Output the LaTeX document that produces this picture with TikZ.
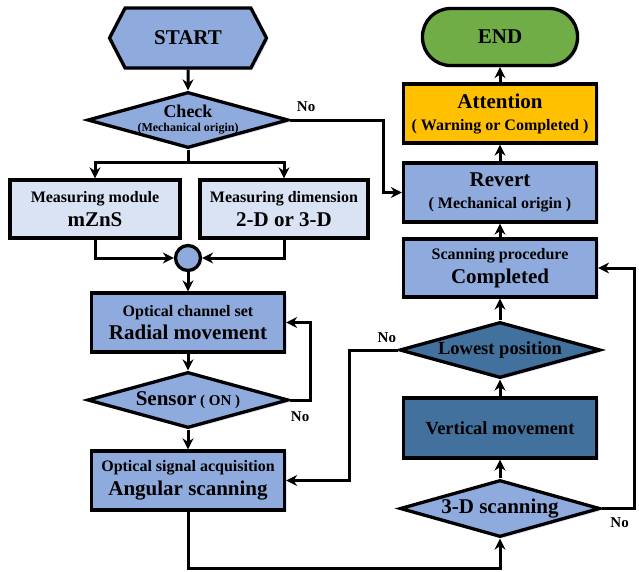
\documentclass[tikz,border=0pt]{standalone}
\usepackage{fontspec}
\setmainfont{Liberation Serif}
\usetikzlibrary{arrows.meta,shapes.geometric,shapes.symbols,shadows}
\definecolor{boxblue}{HTML}{8FAADC}
\definecolor{deepblue}{HTML}{41719C}
\definecolor{paleblue}{HTML}{DAE3F3}
\definecolor{attnorange}{HTML}{FFC000}
\definecolor{endgreen}{HTML}{70AD47}
\newcommand{\smalltxt}{\fontsize{16}{19}\selectfont}
\newcommand{\bigtxt}{\fontsize{21}{25}\selectfont}
\newcommand{\midtxt}{\fontsize{18.5}{22}\selectfont}
\begin{document}
\begin{tikzpicture}[x=1pt,y=-1pt,>={Stealth[length=11pt,width=11pt]},line width=3pt,font=\bfseries,
    shade/.style={drop shadow={shadow xshift=2pt,shadow yshift=-2pt,fill=blue!20,opacity=.6}},
    box/.style={draw,line width=3.3pt,fill=boxblue,minimum width=193pt,minimum height=59pt,inner sep=0pt,
        align=center,font=\bfseries\fontsize{16}{23.5}\selectfont,shade},
    dec/.style={draw,diamond,line width=3.3pt,fill=boxblue,minimum width=201pt,minimum height=56pt,inner sep=0pt,shade},
    no/.style={font=\bfseries\fontsize{15}{15}\selectfont}]
    \useasboundingbox (0,0) rectangle (639,571);
    % left column
    \node[signal,signal to=west and east,signal pointer angle=125,draw,line width=3.3pt,fill=boxblue,
        minimum width=157pt,minimum height=60pt,inner sep=0pt,shade] (start) at (188,38) {\bigtxt START};
    \node[dec,label={[align=center,font=\bfseries\fontsize{12}{14}\selectfont]center:{\fontsize{18}{14}\selectfont Check}\\(Mechanical origin)}] (check) at (188,120) {};
    \node[box,fill=paleblue,minimum width=170pt,minimum height=58pt] (mod) at (95,209) {{\smalltxt Measuring module}\\{\bigtxt mZnS}};
    \node[box,fill=paleblue,minimum width=168pt,minimum height=58pt] (dim) at (284,209) {{\smalltxt Measuring dimension}\\{\bigtxt 2-D or 3-D}};
    \node[circle,draw,line width=3.3pt,fill=boxblue,minimum size=25pt,inner sep=0pt] (join) at (188,258) {};
    \node[box] (radial) at (188,322.5) {{\smalltxt Optical channel set}\\{\bigtxt Radial movement}};
    \node[dec,label={center:{\bigtxt Sensor}{\fontsize{15}{18}\selectfont\ ( ON )}}] (sensor) at (188,400) {};
    \node[box] (angular) at (188,480.5) {{\smalltxt Optical signal acquisition}\\{\bigtxt Angular scanning}};
    % right column
    \node[draw,line width=3.3pt,fill=endgreen,rounded corners=28pt,minimum width=155pt,minimum height=57pt,shade] (endnode) at (500,37) {\bigtxt END};
    \node[box,fill=attnorange,font=\bfseries\fontsize{16}{22}\selectfont] (attn) at (500,113.5) {{\bigtxt Attention}\\{\smalltxt ( Warning or Completed )}};
    \node[box,font=\bfseries\fontsize{16}{22}\selectfont] (revert) at (500,192.5) {{\bigtxt Revert}\\{\smalltxt ( Mechanical origin )}};
    \node[box,minimum height=58pt] (done) at (500,268) {{\smalltxt Scanning procedure}\\{\bigtxt Completed}};
    \node[dec,fill=deepblue,label={center:{\midtxt Lowest position}}] (lowest) at (500,350) {};
    \node[box,fill=deepblue,minimum height=60pt] (vert) at (500,428) {\midtxt Vertical movement};
    \node[dec,minimum width=200pt,minimum height=57pt,label={center:{\bigtxt 3-D scanning}}] (scan3) at (500,508.5) {};
    % connectors
    \draw[->] (start) -- (check);
    \draw (check.south) -- ++(0,13) coordinate (fork);
    \draw[->] (fork) -| (mod.north);
    \draw[->] (fork) -| (dim.north);
    \draw[->] (mod.south) |- (join.west);
    \draw[->] (dim.south) |- (join.east);
    \foreach \a/\b in {join/radial,radial/sensor,sensor/angular}
        \draw[->] (\a) -- (\b);
    \foreach \a/\b in {scan3/vert,vert/lowest,lowest/done,done/revert,revert/attn,attn/endnode}
        \draw[->] (\a) -- (\b);
    \draw[->] (check.east) -- ++(93,0) |- (revert.west);
    \draw[->] (sensor.east) -- ++(20,0) |- (radial.east);
    \draw[->] (lowest.west) -- ++(-48,0) |- (angular.east);
    \draw[->] (scan3.east) -- ++(33,0) |- (done.east);
    \draw[->] (angular.south) -- ++(0,57) -| (scan3.south);
    % No labels
    \node[no] (nocheck) at ([xshift=16pt,yshift=13pt]check.east) {No};
    \node[no] (nosensor) at ([xshift=10pt,yshift=-17pt]sensor.east) {No};
    \node[no] (nolowest) at ([xshift=-11pt,yshift=12pt]lowest.west) {No};
    \node[no] (noscan) at ([xshift=18pt,yshift=-14pt]scan3.east) {No};
\end{tikzpicture}
\end{document}
